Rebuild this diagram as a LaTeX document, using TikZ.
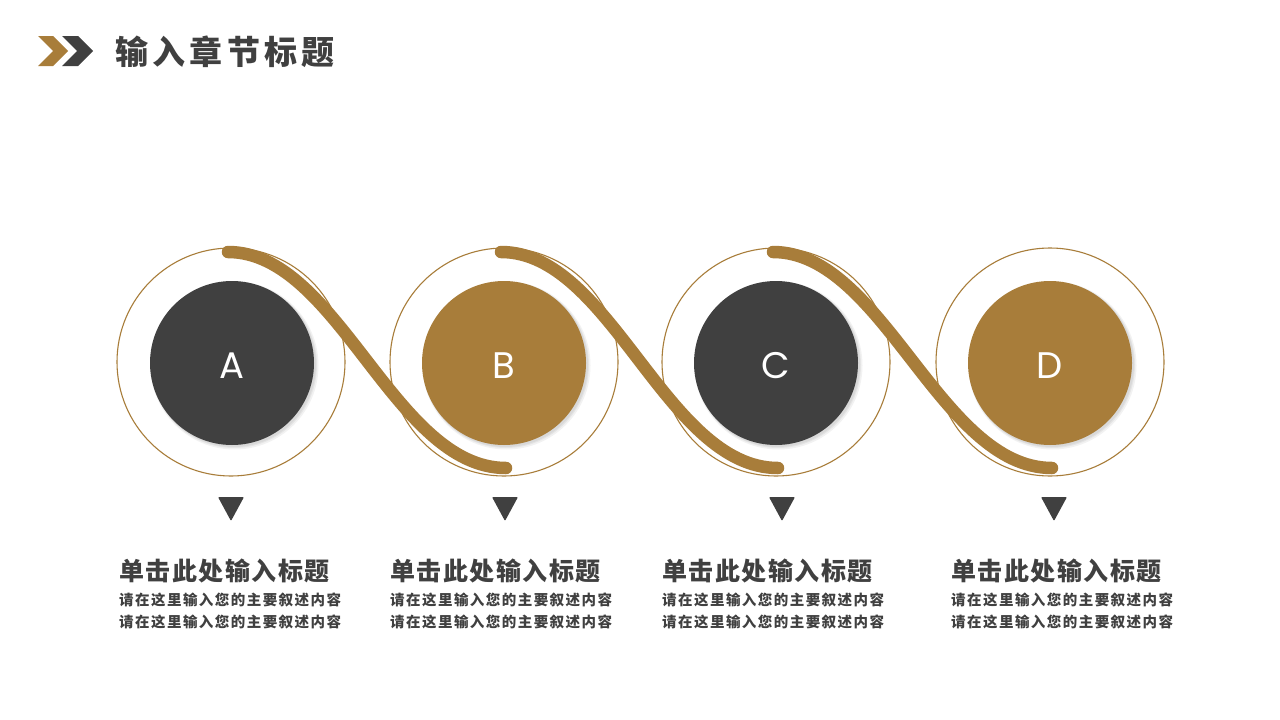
\documentclass[tikz,border=0pt]{standalone}
\usepackage{fontspec}
\newfontfamily\cjk{Noto Sans CJK SC}
\newfontfamily\letterfont{Poppins}
\definecolor{gold}{RGB}{168,125,58}
\definecolor{dark}{RGB}{64,64,64}
\tikzset{
  outer/.style={circle, draw=gold, line width=1.1pt, minimum size=228pt, inner sep=0pt},
  inner/.style={circle, minimum size=164pt, inner sep=0pt},
  lettr/.style={text=white, inner sep=0pt, font=\letterfont\fontsize{37}{37}\selectfont},
  shade/.style={circle, fill=black, opacity=0.05, minimum size=#1, inner sep=0pt},
  wave/.style={draw=gold, line width=12.5pt, line cap=round},
  tri/.style={fill=dark, rounded corners=1pt},
  headtxt/.style={anchor=west, inner sep=0pt, text=dark,
    font=\cjk\bfseries\fontsize{25}{25}\selectfont\addfontfeature{LetterSpace=6}},
  bodytxt/.style={anchor=west, inner sep=0pt, text=dark,
    font=\cjk\bfseries\fontsize{14.5}{14.5}\selectfont\addfontfeature{LetterSpace=10}},
}
\begin{document}
\begin{tikzpicture}[x=1pt,y=-1pt]
\useasboundingbox[fill=white] (0,0) rectangle (1280,720);
% header
\fill[gold] (38,36) -- (53,36) -- (68,51) -- (53,66) -- (38,66) -- (53,51) -- cycle;
\fill[dark] (62,36) -- (78,36) -- (93,51) -- (78,66) -- (62,66) -- (77,51) -- cycle;
\node[anchor=west, inner sep=0pt, text=dark,
  font=\cjk\bfseries\fontsize{33}{33}\selectfont\addfontfeature{LetterSpace=13}]
  (title) at (115,52) {输入章节标题};
% outer circles
\foreach \n/\x in {A/231,B/504,C/776,D/1050}{
  \node[outer] (o\n) at (\x,362) {};
}
% waves
\foreach \s/\e in {231/504,504/776,776/1050}{
  \draw[wave] (\s-3,252) .. controls (\s+107,252) and (\e-110,468) .. (\e+2,468);
}
% inner circles with shadow
\foreach \n/\x/\c in {A/232/dark,B/504/gold,C/776/dark,D/1050/gold}{
  \node[shade=168pt] at (\x+2.5,365.5) {};
  \node[shade=166pt] at (\x+2,365) {};
  \node[shade=165pt] at (\x+1.5,364.5) {};
  \node[inner, fill=\c] (i\n) at (\x,363) {};
  \node[lettr] (l\n) at (\x,366) {\n};
}
% triangles and texts
\foreach \n/\tx/\lx in {A/231/119,B/505/390,C/782/662,D/1054/951}{
  \fill[tri] (\tx-13,497) -- (\tx+13,497) -- (\tx,521) -- cycle;
  \node[headtxt] (h\n) at (\lx,571) {单击此处输入标题};
  \node[bodytxt] (p\n) at (\lx,600) {请在这里输入您的主要叙述内容};
  \node[bodytxt] (q\n) at (\lx,622) {请在这里输入您的主要叙述内容};
}
\end{tikzpicture}
\end{document}
